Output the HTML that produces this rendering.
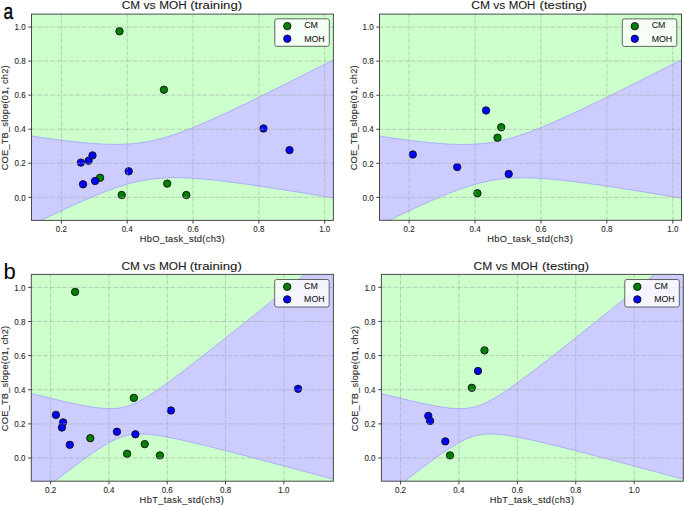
<!DOCTYPE html><html><head><meta charset="utf-8"><style>html,body{margin:0;padding:0;background:#fff;}svg{display:block;}text{font-family:"Liberation Sans",sans-serif;}</style></head><body>
<svg width="685" height="507" viewBox="0 0 685 507">
<rect width="685" height="507" fill="#fff"/>
<clipPath id="cA1"><rect x="31.5" y="14.1" width="301.90" height="206.30"/></clipPath>
<g clip-path="url(#cA1)">
<rect x="31.5" y="14.1" width="301.90" height="206.30" fill="#ccffcc"/>
<path d="M29.50,135.67 L31.04,135.90 L32.57,136.13 L34.11,136.35 L35.65,136.58 L37.19,136.80 L38.72,137.03 L40.26,137.25 L41.80,137.47 L43.33,137.69 L44.87,137.90 L46.41,138.12 L47.95,138.33 L49.48,138.54 L51.02,138.75 L52.56,138.96 L54.09,139.17 L55.63,139.37 L57.17,139.57 L58.71,139.77 L60.24,139.97 L61.78,140.17 L63.32,140.36 L64.86,140.55 L66.39,140.74 L67.93,140.92 L69.47,141.10 L71.00,141.28 L72.54,141.46 L74.08,141.63 L75.62,141.80 L77.15,141.96 L78.69,142.13 L80.23,142.28 L81.76,142.44 L83.30,142.59 L84.84,142.73 L86.38,142.87 L87.91,143.01 L89.45,143.14 L90.99,143.27 L92.52,143.39 L94.06,143.50 L95.60,143.61 L97.14,143.71 L98.67,143.81 L100.21,143.90 L101.75,143.98 L103.28,144.06 L104.82,144.13 L106.36,144.19 L107.90,144.24 L109.43,144.28 L110.97,144.32 L112.51,144.34 L114.05,144.36 L115.58,144.36 L117.12,144.36 L118.66,144.34 L120.19,144.32 L121.73,144.28 L123.27,144.23 L124.81,144.17 L126.34,144.09 L127.88,144.00 L129.42,143.90 L130.95,143.79 L132.49,143.66 L134.03,143.51 L135.57,143.36 L137.10,143.18 L138.64,143.00 L140.18,142.79 L141.71,142.58 L143.25,142.34 L144.79,142.09 L146.33,141.83 L147.86,141.55 L149.40,141.26 L150.94,140.95 L152.47,140.62 L154.01,140.28 L155.55,139.92 L157.09,139.55 L158.62,139.17 L160.16,138.77 L161.70,138.36 L163.24,137.93 L164.77,137.49 L166.31,137.04 L167.85,136.57 L169.38,136.09 L170.92,135.60 L172.46,135.10 L174.00,134.59 L175.53,134.07 L177.07,133.53 L178.61,132.99 L180.14,132.44 L181.68,131.88 L183.22,131.31 L184.76,130.73 L186.29,130.14 L187.83,129.55 L189.37,128.94 L190.90,128.33 L192.44,127.72 L193.98,127.09 L195.52,126.46 L197.05,125.83 L198.59,125.19 L200.13,124.54 L201.66,123.89 L203.20,123.23 L204.74,122.56 L206.28,121.90 L207.81,121.22 L209.35,120.55 L210.89,119.87 L212.43,119.18 L213.96,118.50 L215.50,117.80 L217.04,117.11 L218.57,116.41 L220.11,115.71 L221.65,115.00 L223.19,114.29 L224.72,113.58 L226.26,112.87 L227.80,112.15 L229.33,111.43 L230.87,110.71 L232.41,109.99 L233.95,109.26 L235.48,108.53 L237.02,107.80 L238.56,107.07 L240.09,106.34 L241.63,105.60 L243.17,104.86 L244.71,104.12 L246.24,103.38 L247.78,102.64 L249.32,101.89 L250.85,101.15 L252.39,100.40 L253.93,99.65 L255.47,98.90 L257.00,98.15 L258.54,97.40 L260.08,96.64 L261.62,95.89 L263.15,95.13 L264.69,94.37 L266.23,93.61 L267.76,92.85 L269.30,92.09 L270.84,91.33 L272.38,90.57 L273.91,89.80 L275.45,89.04 L276.99,88.27 L278.52,87.51 L280.06,86.74 L281.60,85.97 L283.14,85.20 L284.67,84.43 L286.21,83.66 L287.75,82.89 L289.28,82.12 L290.82,81.35 L292.36,80.58 L293.90,79.80 L295.43,79.03 L296.97,78.25 L298.51,77.48 L300.04,76.70 L301.58,75.93 L303.12,75.15 L304.66,74.37 L306.19,73.59 L307.73,72.81 L309.27,72.04 L310.81,71.26 L312.34,70.48 L313.88,69.70 L315.42,68.92 L316.95,68.13 L318.49,67.35 L320.03,66.57 L321.57,65.79 L323.10,65.00 L324.64,64.22 L326.18,63.44 L327.71,62.65 L329.25,61.87 L330.79,61.08 L332.33,60.30 L333.86,59.51 L335.40,58.73 L335.40,198.36 L333.86,198.10 L332.33,197.84 L330.79,197.58 L329.25,197.32 L327.71,197.06 L326.18,196.80 L324.64,196.55 L323.10,196.29 L321.57,196.03 L320.03,195.78 L318.49,195.52 L316.95,195.26 L315.42,195.01 L313.88,194.75 L312.34,194.50 L310.81,194.25 L309.27,193.99 L307.73,193.74 L306.19,193.49 L304.66,193.23 L303.12,192.98 L301.58,192.73 L300.04,192.48 L298.51,192.23 L296.97,191.98 L295.43,191.73 L293.90,191.49 L292.36,191.24 L290.82,190.99 L289.28,190.74 L287.75,190.50 L286.21,190.25 L284.67,190.01 L283.14,189.77 L281.60,189.52 L280.06,189.28 L278.52,189.04 L276.99,188.80 L275.45,188.56 L273.91,188.32 L272.38,188.08 L270.84,187.85 L269.30,187.61 L267.76,187.38 L266.23,187.14 L264.69,186.91 L263.15,186.68 L261.62,186.45 L260.08,186.22 L258.54,185.99 L257.00,185.76 L255.47,185.54 L253.93,185.31 L252.39,185.09 L250.85,184.87 L249.32,184.65 L247.78,184.43 L246.24,184.21 L244.71,184.00 L243.17,183.78 L241.63,183.57 L240.09,183.36 L238.56,183.15 L237.02,182.95 L235.48,182.74 L233.95,182.54 L232.41,182.34 L230.87,182.14 L229.33,181.94 L227.80,181.75 L226.26,181.56 L224.72,181.37 L223.19,181.19 L221.65,181.01 L220.11,180.83 L218.57,180.65 L217.04,180.48 L215.50,180.31 L213.96,180.14 L212.43,179.98 L210.89,179.82 L209.35,179.67 L207.81,179.52 L206.28,179.37 L204.74,179.23 L203.20,179.09 L201.66,178.96 L200.13,178.83 L198.59,178.71 L197.05,178.60 L195.52,178.49 L193.98,178.38 L192.44,178.28 L190.90,178.19 L189.37,178.11 L187.83,178.03 L186.29,177.96 L184.76,177.90 L183.22,177.85 L181.68,177.81 L180.14,177.77 L178.61,177.74 L177.07,177.73 L175.53,177.72 L174.00,177.72 L172.46,177.74 L170.92,177.76 L169.38,177.80 L167.85,177.85 L166.31,177.91 L164.77,177.98 L163.24,178.07 L161.70,178.16 L160.16,178.28 L158.62,178.40 L157.09,178.55 L155.55,178.70 L154.01,178.87 L152.47,179.06 L150.94,179.26 L149.40,179.47 L147.86,179.70 L146.33,179.95 L144.79,180.21 L143.25,180.49 L141.71,180.78 L140.18,181.09 L138.64,181.41 L137.10,181.75 L135.57,182.10 L134.03,182.47 L132.49,182.86 L130.95,183.25 L129.42,183.66 L127.88,184.09 L126.34,184.53 L124.81,184.98 L123.27,185.44 L121.73,185.92 L120.19,186.40 L118.66,186.90 L117.12,187.41 L115.58,187.94 L114.05,188.47 L112.51,189.01 L110.97,189.56 L109.43,190.12 L107.90,190.69 L106.36,191.27 L104.82,191.85 L103.28,192.45 L101.75,193.05 L100.21,193.66 L98.67,194.27 L97.14,194.90 L95.60,195.52 L94.06,196.16 L92.52,196.80 L90.99,197.45 L89.45,198.10 L87.91,198.76 L86.38,199.42 L84.84,200.09 L83.30,200.76 L81.76,201.43 L80.23,202.11 L78.69,202.80 L77.15,203.48 L75.62,204.18 L74.08,204.87 L72.54,205.57 L71.00,206.27 L69.47,206.97 L67.93,207.68 L66.39,208.39 L64.86,209.11 L63.32,209.82 L61.78,210.54 L60.24,211.26 L58.71,211.99 L57.17,212.71 L55.63,213.44 L54.09,214.17 L52.56,214.90 L51.02,215.64 L49.48,216.37 L47.95,217.11 L46.41,217.85 L44.87,218.59 L43.33,219.33 L41.80,220.08 L40.26,220.82 L38.72,221.57 L37.19,222.32 L35.65,223.07 L34.11,223.82 L32.57,224.57 L31.04,225.33 L29.50,225.40Z" fill="#ccccff"/>
<path d="M29.50,135.67 L31.04,135.90 L32.57,136.13 L34.11,136.35 L35.65,136.58 L37.19,136.80 L38.72,137.03 L40.26,137.25 L41.80,137.47 L43.33,137.69 L44.87,137.90 L46.41,138.12 L47.95,138.33 L49.48,138.54 L51.02,138.75 L52.56,138.96 L54.09,139.17 L55.63,139.37 L57.17,139.57 L58.71,139.77 L60.24,139.97 L61.78,140.17 L63.32,140.36 L64.86,140.55 L66.39,140.74 L67.93,140.92 L69.47,141.10 L71.00,141.28 L72.54,141.46 L74.08,141.63 L75.62,141.80 L77.15,141.96 L78.69,142.13 L80.23,142.28 L81.76,142.44 L83.30,142.59 L84.84,142.73 L86.38,142.87 L87.91,143.01 L89.45,143.14 L90.99,143.27 L92.52,143.39 L94.06,143.50 L95.60,143.61 L97.14,143.71 L98.67,143.81 L100.21,143.90 L101.75,143.98 L103.28,144.06 L104.82,144.13 L106.36,144.19 L107.90,144.24 L109.43,144.28 L110.97,144.32 L112.51,144.34 L114.05,144.36 L115.58,144.36 L117.12,144.36 L118.66,144.34 L120.19,144.32 L121.73,144.28 L123.27,144.23 L124.81,144.17 L126.34,144.09 L127.88,144.00 L129.42,143.90 L130.95,143.79 L132.49,143.66 L134.03,143.51 L135.57,143.36 L137.10,143.18 L138.64,143.00 L140.18,142.79 L141.71,142.58 L143.25,142.34 L144.79,142.09 L146.33,141.83 L147.86,141.55 L149.40,141.26 L150.94,140.95 L152.47,140.62 L154.01,140.28 L155.55,139.92 L157.09,139.55 L158.62,139.17 L160.16,138.77 L161.70,138.36 L163.24,137.93 L164.77,137.49 L166.31,137.04 L167.85,136.57 L169.38,136.09 L170.92,135.60 L172.46,135.10 L174.00,134.59 L175.53,134.07 L177.07,133.53 L178.61,132.99 L180.14,132.44 L181.68,131.88 L183.22,131.31 L184.76,130.73 L186.29,130.14 L187.83,129.55 L189.37,128.94 L190.90,128.33 L192.44,127.72 L193.98,127.09 L195.52,126.46 L197.05,125.83 L198.59,125.19 L200.13,124.54 L201.66,123.89 L203.20,123.23 L204.74,122.56 L206.28,121.90 L207.81,121.22 L209.35,120.55 L210.89,119.87 L212.43,119.18 L213.96,118.50 L215.50,117.80 L217.04,117.11 L218.57,116.41 L220.11,115.71 L221.65,115.00 L223.19,114.29 L224.72,113.58 L226.26,112.87 L227.80,112.15 L229.33,111.43 L230.87,110.71 L232.41,109.99 L233.95,109.26 L235.48,108.53 L237.02,107.80 L238.56,107.07 L240.09,106.34 L241.63,105.60 L243.17,104.86 L244.71,104.12 L246.24,103.38 L247.78,102.64 L249.32,101.89 L250.85,101.15 L252.39,100.40 L253.93,99.65 L255.47,98.90 L257.00,98.15 L258.54,97.40 L260.08,96.64 L261.62,95.89 L263.15,95.13 L264.69,94.37 L266.23,93.61 L267.76,92.85 L269.30,92.09 L270.84,91.33 L272.38,90.57 L273.91,89.80 L275.45,89.04 L276.99,88.27 L278.52,87.51 L280.06,86.74 L281.60,85.97 L283.14,85.20 L284.67,84.43 L286.21,83.66 L287.75,82.89 L289.28,82.12 L290.82,81.35 L292.36,80.58 L293.90,79.80 L295.43,79.03 L296.97,78.25 L298.51,77.48 L300.04,76.70 L301.58,75.93 L303.12,75.15 L304.66,74.37 L306.19,73.59 L307.73,72.81 L309.27,72.04 L310.81,71.26 L312.34,70.48 L313.88,69.70 L315.42,68.92 L316.95,68.13 L318.49,67.35 L320.03,66.57 L321.57,65.79 L323.10,65.00 L324.64,64.22 L326.18,63.44 L327.71,62.65 L329.25,61.87 L330.79,61.08 L332.33,60.30 L333.86,59.51 L335.40,58.73" fill="none" stroke="#9a9aff" stroke-width="0.7"/>
<path d="M29.50,225.40 L31.04,225.33 L32.57,224.57 L34.11,223.82 L35.65,223.07 L37.19,222.32 L38.72,221.57 L40.26,220.82 L41.80,220.08 L43.33,219.33 L44.87,218.59 L46.41,217.85 L47.95,217.11 L49.48,216.37 L51.02,215.64 L52.56,214.90 L54.09,214.17 L55.63,213.44 L57.17,212.71 L58.71,211.99 L60.24,211.26 L61.78,210.54 L63.32,209.82 L64.86,209.11 L66.39,208.39 L67.93,207.68 L69.47,206.97 L71.00,206.27 L72.54,205.57 L74.08,204.87 L75.62,204.18 L77.15,203.48 L78.69,202.80 L80.23,202.11 L81.76,201.43 L83.30,200.76 L84.84,200.09 L86.38,199.42 L87.91,198.76 L89.45,198.10 L90.99,197.45 L92.52,196.80 L94.06,196.16 L95.60,195.52 L97.14,194.90 L98.67,194.27 L100.21,193.66 L101.75,193.05 L103.28,192.45 L104.82,191.85 L106.36,191.27 L107.90,190.69 L109.43,190.12 L110.97,189.56 L112.51,189.01 L114.05,188.47 L115.58,187.94 L117.12,187.41 L118.66,186.90 L120.19,186.40 L121.73,185.92 L123.27,185.44 L124.81,184.98 L126.34,184.53 L127.88,184.09 L129.42,183.66 L130.95,183.25 L132.49,182.86 L134.03,182.47 L135.57,182.10 L137.10,181.75 L138.64,181.41 L140.18,181.09 L141.71,180.78 L143.25,180.49 L144.79,180.21 L146.33,179.95 L147.86,179.70 L149.40,179.47 L150.94,179.26 L152.47,179.06 L154.01,178.87 L155.55,178.70 L157.09,178.55 L158.62,178.40 L160.16,178.28 L161.70,178.16 L163.24,178.07 L164.77,177.98 L166.31,177.91 L167.85,177.85 L169.38,177.80 L170.92,177.76 L172.46,177.74 L174.00,177.72 L175.53,177.72 L177.07,177.73 L178.61,177.74 L180.14,177.77 L181.68,177.81 L183.22,177.85 L184.76,177.90 L186.29,177.96 L187.83,178.03 L189.37,178.11 L190.90,178.19 L192.44,178.28 L193.98,178.38 L195.52,178.49 L197.05,178.60 L198.59,178.71 L200.13,178.83 L201.66,178.96 L203.20,179.09 L204.74,179.23 L206.28,179.37 L207.81,179.52 L209.35,179.67 L210.89,179.82 L212.43,179.98 L213.96,180.14 L215.50,180.31 L217.04,180.48 L218.57,180.65 L220.11,180.83 L221.65,181.01 L223.19,181.19 L224.72,181.37 L226.26,181.56 L227.80,181.75 L229.33,181.94 L230.87,182.14 L232.41,182.34 L233.95,182.54 L235.48,182.74 L237.02,182.95 L238.56,183.15 L240.09,183.36 L241.63,183.57 L243.17,183.78 L244.71,184.00 L246.24,184.21 L247.78,184.43 L249.32,184.65 L250.85,184.87 L252.39,185.09 L253.93,185.31 L255.47,185.54 L257.00,185.76 L258.54,185.99 L260.08,186.22 L261.62,186.45 L263.15,186.68 L264.69,186.91 L266.23,187.14 L267.76,187.38 L269.30,187.61 L270.84,187.85 L272.38,188.08 L273.91,188.32 L275.45,188.56 L276.99,188.80 L278.52,189.04 L280.06,189.28 L281.60,189.52 L283.14,189.77 L284.67,190.01 L286.21,190.25 L287.75,190.50 L289.28,190.74 L290.82,190.99 L292.36,191.24 L293.90,191.49 L295.43,191.73 L296.97,191.98 L298.51,192.23 L300.04,192.48 L301.58,192.73 L303.12,192.98 L304.66,193.23 L306.19,193.49 L307.73,193.74 L309.27,193.99 L310.81,194.25 L312.34,194.50 L313.88,194.75 L315.42,195.01 L316.95,195.26 L318.49,195.52 L320.03,195.78 L321.57,196.03 L323.10,196.29 L324.64,196.55 L326.18,196.80 L327.71,197.06 L329.25,197.32 L330.79,197.58 L332.33,197.84 L333.86,198.10 L335.40,198.36" fill="none" stroke="#9a9aff" stroke-width="0.7"/>
<circle cx="119.5" cy="31.3" r="3.7" fill="#008000" stroke="#111" stroke-width="0.9"/>
<circle cx="163.9" cy="89.7" r="3.7" fill="#008000" stroke="#111" stroke-width="0.9"/>
<circle cx="100.1" cy="177.8" r="3.7" fill="#008000" stroke="#111" stroke-width="0.9"/>
<circle cx="121.7" cy="195" r="3.7" fill="#008000" stroke="#111" stroke-width="0.9"/>
<circle cx="167.2" cy="183.6" r="3.7" fill="#008000" stroke="#111" stroke-width="0.9"/>
<circle cx="186.3" cy="195" r="3.7" fill="#008000" stroke="#111" stroke-width="0.9"/>
<circle cx="80.9" cy="162.6" r="3.7" fill="#0000ff" stroke="#111" stroke-width="0.9"/>
<circle cx="88.6" cy="160.7" r="3.7" fill="#0000ff" stroke="#111" stroke-width="0.9"/>
<circle cx="92.5" cy="155.4" r="3.7" fill="#0000ff" stroke="#111" stroke-width="0.9"/>
<circle cx="83.05" cy="184.3" r="3.7" fill="#0000ff" stroke="#111" stroke-width="0.9"/>
<circle cx="95.1" cy="181" r="3.7" fill="#0000ff" stroke="#111" stroke-width="0.9"/>
<circle cx="128.7" cy="171.3" r="3.7" fill="#0000ff" stroke="#111" stroke-width="0.9"/>
<circle cx="263.5" cy="128.45" r="3.7" fill="#0000ff" stroke="#111" stroke-width="0.9"/>
<circle cx="289.5" cy="150.1" r="3.7" fill="#0000ff" stroke="#111" stroke-width="0.9"/>
<path d="M61.40,220.4V14.1M127.23,220.4V14.1M193.06,220.4V14.1M258.89,220.4V14.1M324.72,220.4V14.1M31.5,197.30H333.4M31.5,163.25H333.4M31.5,129.20H333.4M31.5,95.15H333.4M31.5,61.10H333.4M31.5,27.05H333.4" stroke="#a8a8a8" stroke-opacity="0.75" stroke-width="0.8" stroke-dasharray="3.85,0.95,0.6,0.95" fill="none"/>
</g>
<rect x="31.5" y="14.1" width="301.90" height="206.30" fill="none" stroke="#4a4a4a" stroke-width="1"/>
<path d="M61.40,220.4v3.2M127.23,220.4v3.2M193.06,220.4v3.2M258.89,220.4v3.2M324.72,220.4v3.2M31.5,197.30h-3.2M31.5,163.25h-3.2M31.5,129.20h-3.2M31.5,95.15h-3.2M31.5,61.10h-3.2M31.5,27.05h-3.2" stroke="#303030" stroke-width="0.9" fill="none"/>
<text transform="translate(61.40,231.90) scale(0.87,1)" font-size="9.2" fill="#262626" text-anchor="middle" stroke="#262626" stroke-width="0.1">0.2</text>
<text transform="translate(127.23,231.90) scale(0.87,1)" font-size="9.2" fill="#262626" text-anchor="middle" stroke="#262626" stroke-width="0.1">0.4</text>
<text transform="translate(193.06,231.90) scale(0.87,1)" font-size="9.2" fill="#262626" text-anchor="middle" stroke="#262626" stroke-width="0.1">0.6</text>
<text transform="translate(258.89,231.90) scale(0.87,1)" font-size="9.2" fill="#262626" text-anchor="middle" stroke="#262626" stroke-width="0.1">0.8</text>
<text transform="translate(324.72,231.90) scale(0.87,1)" font-size="9.2" fill="#262626" text-anchor="middle" stroke="#262626" stroke-width="0.1">1.0</text>
<text transform="translate(25.60,200.50) scale(0.87,1)" font-size="9.2" fill="#262626" text-anchor="end" stroke="#262626" stroke-width="0.1">0.0</text>
<text transform="translate(25.60,166.45) scale(0.87,1)" font-size="9.2" fill="#262626" text-anchor="end" stroke="#262626" stroke-width="0.1">0.2</text>
<text transform="translate(25.60,132.40) scale(0.87,1)" font-size="9.2" fill="#262626" text-anchor="end" stroke="#262626" stroke-width="0.1">0.4</text>
<text transform="translate(25.60,98.35) scale(0.87,1)" font-size="9.2" fill="#262626" text-anchor="end" stroke="#262626" stroke-width="0.1">0.6</text>
<text transform="translate(25.60,64.30) scale(0.87,1)" font-size="9.2" fill="#262626" text-anchor="end" stroke="#262626" stroke-width="0.1">0.8</text>
<text transform="translate(25.60,30.25) scale(0.87,1)" font-size="9.2" fill="#262626" text-anchor="end" stroke="#262626" stroke-width="0.1">1.0</text>
<text transform="translate(182.35,242.30)" font-size="9.3" letter-spacing="0.306" fill="#262626" text-anchor="middle" stroke="#262626" stroke-width="0.1">HbO_task_std(ch3)</text>
<text transform="translate(8.10,117.73) rotate(-90)" font-size="9.3" letter-spacing="0.183" fill="#262626" text-anchor="middle" stroke="#262626" stroke-width="0.1">COE_TB_slope(01, ch2)</text>
<text transform="translate(130.95,9.00) scale(1.0919,1)" font-size="10.8" fill="#1a1a1a" text-anchor="middle" stroke="#1a1a1a" stroke-width="0.1">CM</text>
<text transform="translate(149.52,9.00) scale(1.1288,1)" font-size="10.8" fill="#1a1a1a" text-anchor="middle" stroke="#1a1a1a" stroke-width="0.1">vs</text>
<text transform="translate(173.03,9.00) scale(1.0883,1)" font-size="10.8" fill="#1a1a1a" text-anchor="middle" stroke="#1a1a1a" stroke-width="0.1">MOH</text>
<text transform="translate(216.15,9.00) scale(1.2230,1)" font-size="10.8" fill="#1a1a1a" text-anchor="middle" stroke="#1a1a1a" stroke-width="0.1">(training)</text>
<rect x="274.80" y="18.80" width="54.50" height="27.50" rx="2" fill="#fff" fill-opacity="0.8" stroke="#555" stroke-width="0.9"/>
<circle cx="287.30" cy="26.10" r="3.7" fill="#008000" stroke="#111" stroke-width="0.9"/>
<circle cx="287.30" cy="38.70" r="3.7" fill="#0000ff" stroke="#111" stroke-width="0.9"/>
<text x="304.20" y="28.00" font-size="8.8" fill="#222" stroke="#222" stroke-width="0.1">CM</text>
<text x="304.20" y="41.50" font-size="8.8" fill="#222" stroke="#222" stroke-width="0.1">MOH</text>
<clipPath id="cA2"><rect x="379.5" y="14.1" width="302.00" height="206.20"/></clipPath>
<g clip-path="url(#cA2)">
<rect x="379.5" y="14.1" width="302.00" height="206.20" fill="#ccffcc"/>
<path d="M377.50,135.81 L379.04,136.04 L380.58,136.27 L382.11,136.50 L383.65,136.72 L385.19,136.95 L386.73,137.17 L388.26,137.39 L389.80,137.61 L391.34,137.83 L392.88,138.05 L394.41,138.26 L395.95,138.47 L397.49,138.69 L399.03,138.90 L400.57,139.10 L402.10,139.31 L403.64,139.51 L405.18,139.71 L406.72,139.91 L408.25,140.11 L409.79,140.31 L411.33,140.50 L412.87,140.69 L414.40,140.87 L415.94,141.06 L417.48,141.24 L419.02,141.42 L420.56,141.59 L422.09,141.76 L423.63,141.93 L425.17,142.10 L426.71,142.26 L428.24,142.42 L429.78,142.57 L431.32,142.72 L432.86,142.86 L434.39,143.00 L435.93,143.14 L437.47,143.27 L439.01,143.39 L440.55,143.51 L442.08,143.63 L443.62,143.73 L445.16,143.84 L446.70,143.93 L448.23,144.02 L449.77,144.10 L451.31,144.17 L452.85,144.24 L454.38,144.30 L455.92,144.35 L457.46,144.39 L459.00,144.42 L460.54,144.45 L462.07,144.46 L463.61,144.46 L465.15,144.46 L466.69,144.44 L468.22,144.41 L469.76,144.37 L471.30,144.32 L472.84,144.25 L474.37,144.17 L475.91,144.08 L477.45,143.98 L478.99,143.86 L480.53,143.73 L482.06,143.58 L483.60,143.42 L485.14,143.24 L486.68,143.05 L488.21,142.85 L489.75,142.63 L491.29,142.39 L492.83,142.14 L494.36,141.87 L495.90,141.59 L497.44,141.29 L498.98,140.97 L500.52,140.65 L502.05,140.30 L503.59,139.94 L505.13,139.57 L506.67,139.18 L508.20,138.78 L509.74,138.36 L511.28,137.93 L512.82,137.49 L514.35,137.03 L515.89,136.56 L517.43,136.08 L518.97,135.59 L520.51,135.09 L522.04,134.57 L523.58,134.05 L525.12,133.51 L526.66,132.97 L528.19,132.41 L529.73,131.85 L531.27,131.28 L532.81,130.69 L534.34,130.11 L535.88,129.51 L537.42,128.90 L538.96,128.29 L540.49,127.67 L542.03,127.05 L543.57,126.42 L545.11,125.78 L546.65,125.14 L548.18,124.49 L549.72,123.83 L551.26,123.17 L552.80,122.51 L554.33,121.84 L555.87,121.17 L557.41,120.49 L558.95,119.81 L560.48,119.12 L562.02,118.43 L563.56,117.74 L565.10,117.04 L566.64,116.34 L568.17,115.64 L569.71,114.93 L571.25,114.23 L572.79,113.51 L574.32,112.80 L575.86,112.08 L577.40,111.36 L578.94,110.64 L580.47,109.92 L582.01,109.19 L583.55,108.46 L585.09,107.73 L586.63,107.00 L588.16,106.26 L589.70,105.52 L591.24,104.78 L592.78,104.04 L594.31,103.30 L595.85,102.56 L597.39,101.81 L598.93,101.07 L600.46,100.32 L602.00,99.57 L603.54,98.82 L605.08,98.07 L606.62,97.31 L608.15,96.56 L609.69,95.80 L611.23,95.04 L612.77,94.29 L614.30,93.53 L615.84,92.77 L617.38,92.00 L618.92,91.24 L620.45,90.48 L621.99,89.71 L623.53,88.95 L625.07,88.18 L626.61,87.42 L628.14,86.65 L629.68,85.88 L631.22,85.11 L632.76,84.34 L634.29,83.57 L635.83,82.80 L637.37,82.03 L638.91,81.26 L640.44,80.48 L641.98,79.71 L643.52,78.93 L645.06,78.16 L646.60,77.38 L648.13,76.61 L649.67,75.83 L651.21,75.05 L652.75,74.27 L654.28,73.50 L655.82,72.72 L657.36,71.94 L658.90,71.16 L660.43,70.38 L661.97,69.60 L663.51,68.82 L665.05,68.03 L666.59,67.25 L668.12,66.47 L669.66,65.69 L671.20,64.90 L672.74,64.12 L674.27,63.34 L675.81,62.55 L677.35,61.77 L678.89,60.98 L680.42,60.20 L681.96,59.41 L683.50,58.62 L683.50,198.53 L681.96,198.27 L680.42,198.01 L678.89,197.75 L677.35,197.49 L675.81,197.23 L674.27,196.97 L672.74,196.71 L671.20,196.46 L669.66,196.20 L668.12,195.94 L666.59,195.69 L665.05,195.43 L663.51,195.17 L661.97,194.92 L660.43,194.66 L658.90,194.41 L657.36,194.16 L655.82,193.90 L654.28,193.65 L652.75,193.40 L651.21,193.15 L649.67,192.90 L648.13,192.64 L646.60,192.39 L645.06,192.14 L643.52,191.90 L641.98,191.65 L640.44,191.40 L638.91,191.15 L637.37,190.91 L635.83,190.66 L634.29,190.41 L632.76,190.17 L631.22,189.93 L629.68,189.68 L628.14,189.44 L626.61,189.20 L625.07,188.96 L623.53,188.72 L621.99,188.48 L620.45,188.24 L618.92,188.01 L617.38,187.77 L615.84,187.53 L614.30,187.30 L612.77,187.07 L611.23,186.83 L609.69,186.60 L608.15,186.37 L606.62,186.14 L605.08,185.92 L603.54,185.69 L602.00,185.47 L600.46,185.24 L598.93,185.02 L597.39,184.80 L595.85,184.58 L594.31,184.36 L592.78,184.15 L591.24,183.93 L589.70,183.72 L588.16,183.51 L586.63,183.30 L585.09,183.09 L583.55,182.89 L582.01,182.69 L580.47,182.49 L578.94,182.29 L577.40,182.09 L575.86,181.90 L574.32,181.71 L572.79,181.52 L571.25,181.33 L569.71,181.15 L568.17,180.97 L566.64,180.79 L565.10,180.62 L563.56,180.45 L562.02,180.28 L560.48,180.12 L558.95,179.96 L557.41,179.80 L555.87,179.65 L554.33,179.50 L552.80,179.36 L551.26,179.22 L549.72,179.09 L548.18,178.96 L546.65,178.84 L545.11,178.72 L543.57,178.61 L542.03,178.51 L540.49,178.41 L538.96,178.31 L537.42,178.23 L535.88,178.15 L534.34,178.08 L532.81,178.02 L531.27,177.96 L529.73,177.91 L528.19,177.88 L526.66,177.85 L525.12,177.83 L523.58,177.82 L522.04,177.82 L520.51,177.83 L518.97,177.85 L517.43,177.89 L515.89,177.93 L514.35,177.99 L512.82,178.06 L511.28,178.15 L509.74,178.24 L508.20,178.35 L506.67,178.47 L505.13,178.61 L503.59,178.77 L502.05,178.93 L500.52,179.11 L498.98,179.31 L497.44,179.52 L495.90,179.75 L494.36,179.99 L492.83,180.25 L491.29,180.53 L489.75,180.82 L488.21,181.12 L486.68,181.44 L485.14,181.78 L483.60,182.13 L482.06,182.49 L480.53,182.87 L478.99,183.27 L477.45,183.67 L475.91,184.10 L474.37,184.53 L472.84,184.98 L471.30,185.44 L469.76,185.91 L468.22,186.40 L466.69,186.90 L465.15,187.40 L463.61,187.92 L462.07,188.45 L460.54,188.99 L459.00,189.54 L457.46,190.10 L455.92,190.67 L454.38,191.24 L452.85,191.83 L451.31,192.42 L449.77,193.02 L448.23,193.63 L446.70,194.24 L445.16,194.86 L443.62,195.49 L442.08,196.13 L440.55,196.77 L439.01,197.41 L437.47,198.06 L435.93,198.72 L434.39,199.38 L432.86,200.05 L431.32,200.72 L429.78,201.39 L428.24,202.07 L426.71,202.75 L425.17,203.44 L423.63,204.13 L422.09,204.83 L420.56,205.53 L419.02,206.23 L417.48,206.93 L415.94,207.64 L414.40,208.35 L412.87,209.06 L411.33,209.78 L409.79,210.50 L408.25,211.22 L406.72,211.94 L405.18,212.67 L403.64,213.39 L402.10,214.12 L400.57,214.85 L399.03,215.59 L397.49,216.32 L395.95,217.06 L394.41,217.80 L392.88,218.54 L391.34,219.29 L389.80,220.03 L388.26,220.78 L386.73,221.52 L385.19,222.27 L383.65,223.02 L382.11,223.77 L380.58,224.53 L379.04,225.28 L377.50,225.30Z" fill="#ccccff"/>
<path d="M377.50,135.81 L379.04,136.04 L380.58,136.27 L382.11,136.50 L383.65,136.72 L385.19,136.95 L386.73,137.17 L388.26,137.39 L389.80,137.61 L391.34,137.83 L392.88,138.05 L394.41,138.26 L395.95,138.47 L397.49,138.69 L399.03,138.90 L400.57,139.10 L402.10,139.31 L403.64,139.51 L405.18,139.71 L406.72,139.91 L408.25,140.11 L409.79,140.31 L411.33,140.50 L412.87,140.69 L414.40,140.87 L415.94,141.06 L417.48,141.24 L419.02,141.42 L420.56,141.59 L422.09,141.76 L423.63,141.93 L425.17,142.10 L426.71,142.26 L428.24,142.42 L429.78,142.57 L431.32,142.72 L432.86,142.86 L434.39,143.00 L435.93,143.14 L437.47,143.27 L439.01,143.39 L440.55,143.51 L442.08,143.63 L443.62,143.73 L445.16,143.84 L446.70,143.93 L448.23,144.02 L449.77,144.10 L451.31,144.17 L452.85,144.24 L454.38,144.30 L455.92,144.35 L457.46,144.39 L459.00,144.42 L460.54,144.45 L462.07,144.46 L463.61,144.46 L465.15,144.46 L466.69,144.44 L468.22,144.41 L469.76,144.37 L471.30,144.32 L472.84,144.25 L474.37,144.17 L475.91,144.08 L477.45,143.98 L478.99,143.86 L480.53,143.73 L482.06,143.58 L483.60,143.42 L485.14,143.24 L486.68,143.05 L488.21,142.85 L489.75,142.63 L491.29,142.39 L492.83,142.14 L494.36,141.87 L495.90,141.59 L497.44,141.29 L498.98,140.97 L500.52,140.65 L502.05,140.30 L503.59,139.94 L505.13,139.57 L506.67,139.18 L508.20,138.78 L509.74,138.36 L511.28,137.93 L512.82,137.49 L514.35,137.03 L515.89,136.56 L517.43,136.08 L518.97,135.59 L520.51,135.09 L522.04,134.57 L523.58,134.05 L525.12,133.51 L526.66,132.97 L528.19,132.41 L529.73,131.85 L531.27,131.28 L532.81,130.69 L534.34,130.11 L535.88,129.51 L537.42,128.90 L538.96,128.29 L540.49,127.67 L542.03,127.05 L543.57,126.42 L545.11,125.78 L546.65,125.14 L548.18,124.49 L549.72,123.83 L551.26,123.17 L552.80,122.51 L554.33,121.84 L555.87,121.17 L557.41,120.49 L558.95,119.81 L560.48,119.12 L562.02,118.43 L563.56,117.74 L565.10,117.04 L566.64,116.34 L568.17,115.64 L569.71,114.93 L571.25,114.23 L572.79,113.51 L574.32,112.80 L575.86,112.08 L577.40,111.36 L578.94,110.64 L580.47,109.92 L582.01,109.19 L583.55,108.46 L585.09,107.73 L586.63,107.00 L588.16,106.26 L589.70,105.52 L591.24,104.78 L592.78,104.04 L594.31,103.30 L595.85,102.56 L597.39,101.81 L598.93,101.07 L600.46,100.32 L602.00,99.57 L603.54,98.82 L605.08,98.07 L606.62,97.31 L608.15,96.56 L609.69,95.80 L611.23,95.04 L612.77,94.29 L614.30,93.53 L615.84,92.77 L617.38,92.00 L618.92,91.24 L620.45,90.48 L621.99,89.71 L623.53,88.95 L625.07,88.18 L626.61,87.42 L628.14,86.65 L629.68,85.88 L631.22,85.11 L632.76,84.34 L634.29,83.57 L635.83,82.80 L637.37,82.03 L638.91,81.26 L640.44,80.48 L641.98,79.71 L643.52,78.93 L645.06,78.16 L646.60,77.38 L648.13,76.61 L649.67,75.83 L651.21,75.05 L652.75,74.27 L654.28,73.50 L655.82,72.72 L657.36,71.94 L658.90,71.16 L660.43,70.38 L661.97,69.60 L663.51,68.82 L665.05,68.03 L666.59,67.25 L668.12,66.47 L669.66,65.69 L671.20,64.90 L672.74,64.12 L674.27,63.34 L675.81,62.55 L677.35,61.77 L678.89,60.98 L680.42,60.20 L681.96,59.41 L683.50,58.62" fill="none" stroke="#9a9aff" stroke-width="0.7"/>
<path d="M377.50,225.30 L379.04,225.28 L380.58,224.53 L382.11,223.77 L383.65,223.02 L385.19,222.27 L386.73,221.52 L388.26,220.78 L389.80,220.03 L391.34,219.29 L392.88,218.54 L394.41,217.80 L395.95,217.06 L397.49,216.32 L399.03,215.59 L400.57,214.85 L402.10,214.12 L403.64,213.39 L405.18,212.67 L406.72,211.94 L408.25,211.22 L409.79,210.50 L411.33,209.78 L412.87,209.06 L414.40,208.35 L415.94,207.64 L417.48,206.93 L419.02,206.23 L420.56,205.53 L422.09,204.83 L423.63,204.13 L425.17,203.44 L426.71,202.75 L428.24,202.07 L429.78,201.39 L431.32,200.72 L432.86,200.05 L434.39,199.38 L435.93,198.72 L437.47,198.06 L439.01,197.41 L440.55,196.77 L442.08,196.13 L443.62,195.49 L445.16,194.86 L446.70,194.24 L448.23,193.63 L449.77,193.02 L451.31,192.42 L452.85,191.83 L454.38,191.24 L455.92,190.67 L457.46,190.10 L459.00,189.54 L460.54,188.99 L462.07,188.45 L463.61,187.92 L465.15,187.40 L466.69,186.90 L468.22,186.40 L469.76,185.91 L471.30,185.44 L472.84,184.98 L474.37,184.53 L475.91,184.10 L477.45,183.67 L478.99,183.27 L480.53,182.87 L482.06,182.49 L483.60,182.13 L485.14,181.78 L486.68,181.44 L488.21,181.12 L489.75,180.82 L491.29,180.53 L492.83,180.25 L494.36,179.99 L495.90,179.75 L497.44,179.52 L498.98,179.31 L500.52,179.11 L502.05,178.93 L503.59,178.77 L505.13,178.61 L506.67,178.47 L508.20,178.35 L509.74,178.24 L511.28,178.15 L512.82,178.06 L514.35,177.99 L515.89,177.93 L517.43,177.89 L518.97,177.85 L520.51,177.83 L522.04,177.82 L523.58,177.82 L525.12,177.83 L526.66,177.85 L528.19,177.88 L529.73,177.91 L531.27,177.96 L532.81,178.02 L534.34,178.08 L535.88,178.15 L537.42,178.23 L538.96,178.31 L540.49,178.41 L542.03,178.51 L543.57,178.61 L545.11,178.72 L546.65,178.84 L548.18,178.96 L549.72,179.09 L551.26,179.22 L552.80,179.36 L554.33,179.50 L555.87,179.65 L557.41,179.80 L558.95,179.96 L560.48,180.12 L562.02,180.28 L563.56,180.45 L565.10,180.62 L566.64,180.79 L568.17,180.97 L569.71,181.15 L571.25,181.33 L572.79,181.52 L574.32,181.71 L575.86,181.90 L577.40,182.09 L578.94,182.29 L580.47,182.49 L582.01,182.69 L583.55,182.89 L585.09,183.09 L586.63,183.30 L588.16,183.51 L589.70,183.72 L591.24,183.93 L592.78,184.15 L594.31,184.36 L595.85,184.58 L597.39,184.80 L598.93,185.02 L600.46,185.24 L602.00,185.47 L603.54,185.69 L605.08,185.92 L606.62,186.14 L608.15,186.37 L609.69,186.60 L611.23,186.83 L612.77,187.07 L614.30,187.30 L615.84,187.53 L617.38,187.77 L618.92,188.01 L620.45,188.24 L621.99,188.48 L623.53,188.72 L625.07,188.96 L626.61,189.20 L628.14,189.44 L629.68,189.68 L631.22,189.93 L632.76,190.17 L634.29,190.41 L635.83,190.66 L637.37,190.91 L638.91,191.15 L640.44,191.40 L641.98,191.65 L643.52,191.90 L645.06,192.14 L646.60,192.39 L648.13,192.64 L649.67,192.90 L651.21,193.15 L652.75,193.40 L654.28,193.65 L655.82,193.90 L657.36,194.16 L658.90,194.41 L660.43,194.66 L661.97,194.92 L663.51,195.17 L665.05,195.43 L666.59,195.69 L668.12,195.94 L669.66,196.20 L671.20,196.46 L672.74,196.71 L674.27,196.97 L675.81,197.23 L677.35,197.49 L678.89,197.75 L680.42,198.01 L681.96,198.27 L683.50,198.53" fill="none" stroke="#9a9aff" stroke-width="0.7"/>
<circle cx="501.2" cy="127.2" r="3.7" fill="#008000" stroke="#111" stroke-width="0.9"/>
<circle cx="497.5" cy="137.7" r="3.7" fill="#008000" stroke="#111" stroke-width="0.9"/>
<circle cx="477.4" cy="193.3" r="3.7" fill="#008000" stroke="#111" stroke-width="0.9"/>
<circle cx="486.05" cy="110.46" r="3.7" fill="#0000ff" stroke="#111" stroke-width="0.9"/>
<circle cx="412.8" cy="154.5" r="3.7" fill="#0000ff" stroke="#111" stroke-width="0.9"/>
<circle cx="457.2" cy="167.1" r="3.7" fill="#0000ff" stroke="#111" stroke-width="0.9"/>
<circle cx="508.7" cy="174" r="3.7" fill="#0000ff" stroke="#111" stroke-width="0.9"/>
<path d="M409.10,220.3V14.1M475.02,220.3V14.1M540.94,220.3V14.1M606.86,220.3V14.1M672.78,220.3V14.1M379.5,197.40H681.5M379.5,163.34H681.5M379.5,129.28H681.5M379.5,95.22H681.5M379.5,61.16H681.5M379.5,27.10H681.5" stroke="#a8a8a8" stroke-opacity="0.75" stroke-width="0.8" stroke-dasharray="3.85,0.95,0.6,0.95" fill="none"/>
</g>
<rect x="379.5" y="14.1" width="302.00" height="206.20" fill="none" stroke="#4a4a4a" stroke-width="1"/>
<path d="M409.10,220.3v3.2M475.02,220.3v3.2M540.94,220.3v3.2M606.86,220.3v3.2M672.78,220.3v3.2M379.5,197.40h-3.2M379.5,163.34h-3.2M379.5,129.28h-3.2M379.5,95.22h-3.2M379.5,61.16h-3.2M379.5,27.10h-3.2" stroke="#303030" stroke-width="0.9" fill="none"/>
<text transform="translate(409.10,231.80) scale(0.87,1)" font-size="9.2" fill="#262626" text-anchor="middle" stroke="#262626" stroke-width="0.1">0.2</text>
<text transform="translate(475.02,231.80) scale(0.87,1)" font-size="9.2" fill="#262626" text-anchor="middle" stroke="#262626" stroke-width="0.1">0.4</text>
<text transform="translate(540.94,231.80) scale(0.87,1)" font-size="9.2" fill="#262626" text-anchor="middle" stroke="#262626" stroke-width="0.1">0.6</text>
<text transform="translate(606.86,231.80) scale(0.87,1)" font-size="9.2" fill="#262626" text-anchor="middle" stroke="#262626" stroke-width="0.1">0.8</text>
<text transform="translate(672.78,231.80) scale(0.87,1)" font-size="9.2" fill="#262626" text-anchor="middle" stroke="#262626" stroke-width="0.1">1.0</text>
<text transform="translate(373.60,200.60) scale(0.87,1)" font-size="9.2" fill="#262626" text-anchor="end" stroke="#262626" stroke-width="0.1">0.0</text>
<text transform="translate(373.60,166.54) scale(0.87,1)" font-size="9.2" fill="#262626" text-anchor="end" stroke="#262626" stroke-width="0.1">0.2</text>
<text transform="translate(373.60,132.48) scale(0.87,1)" font-size="9.2" fill="#262626" text-anchor="end" stroke="#262626" stroke-width="0.1">0.4</text>
<text transform="translate(373.60,98.42) scale(0.87,1)" font-size="9.2" fill="#262626" text-anchor="end" stroke="#262626" stroke-width="0.1">0.6</text>
<text transform="translate(373.60,64.36) scale(0.87,1)" font-size="9.2" fill="#262626" text-anchor="end" stroke="#262626" stroke-width="0.1">0.8</text>
<text transform="translate(373.60,30.30) scale(0.87,1)" font-size="9.2" fill="#262626" text-anchor="end" stroke="#262626" stroke-width="0.1">1.0</text>
<text transform="translate(530.12,242.20)" font-size="9.3" letter-spacing="0.341" fill="#262626" text-anchor="middle" stroke="#262626" stroke-width="0.1">HbO_task_std(ch3)</text>
<text transform="translate(356.60,117.73) rotate(-90)" font-size="9.3" letter-spacing="0.183" fill="#262626" text-anchor="middle" stroke="#262626" stroke-width="0.1">COE_TB_slope(01, ch2)</text>
<text transform="translate(480.55,9.00) scale(1.1181,1)" font-size="10.8" fill="#1a1a1a" text-anchor="middle" stroke="#1a1a1a" stroke-width="0.1">CM</text>
<text transform="translate(499.15,9.00) scale(1.1154,1)" font-size="10.8" fill="#1a1a1a" text-anchor="middle" stroke="#1a1a1a" stroke-width="0.1">vs</text>
<text transform="translate(522.00,9.00) scale(1.0597,1)" font-size="10.8" fill="#1a1a1a" text-anchor="middle" stroke="#1a1a1a" stroke-width="0.1">MOH</text>
<text transform="translate(563.25,9.00) scale(1.2133,1)" font-size="10.8" fill="#1a1a1a" text-anchor="middle" stroke="#1a1a1a" stroke-width="0.1">(testing)</text>
<rect x="622.30" y="18.90" width="54.50" height="27.50" rx="2" fill="#fff" fill-opacity="0.8" stroke="#555" stroke-width="0.9"/>
<circle cx="634.80" cy="26.20" r="3.7" fill="#008000" stroke="#111" stroke-width="0.9"/>
<circle cx="634.80" cy="38.80" r="3.7" fill="#0000ff" stroke="#111" stroke-width="0.9"/>
<text x="651.70" y="28.10" font-size="8.8" fill="#222" stroke="#222" stroke-width="0.1">CM</text>
<text x="651.70" y="41.60" font-size="8.8" fill="#222" stroke="#222" stroke-width="0.1">MOH</text>
<clipPath id="cB1"><rect x="31.3" y="274.4" width="302.10" height="206.80"/></clipPath>
<g clip-path="url(#cB1)">
<rect x="31.3" y="274.4" width="302.10" height="206.80" fill="#ccffcc"/>
<path d="M29.30,392.97 L30.84,393.36 L32.38,393.75 L33.91,394.14 L35.45,394.53 L36.99,394.91 L38.53,395.30 L40.07,395.68 L41.61,396.06 L43.14,396.45 L44.68,396.83 L46.22,397.20 L47.76,397.58 L49.30,397.95 L50.83,398.33 L52.37,398.70 L53.91,399.07 L55.45,399.43 L56.99,399.80 L58.53,400.16 L60.06,400.52 L61.60,400.88 L63.14,401.23 L64.68,401.58 L66.22,401.93 L67.75,402.28 L69.29,402.62 L70.83,402.96 L72.37,403.29 L73.91,403.62 L75.45,403.94 L76.98,404.26 L78.52,404.57 L80.06,404.88 L81.60,405.18 L83.14,405.48 L84.67,405.76 L86.21,406.04 L87.75,406.31 L89.29,406.57 L90.83,406.82 L92.37,407.06 L93.90,407.29 L95.44,407.51 L96.98,407.71 L98.52,407.89 L100.06,408.06 L101.59,408.21 L103.13,408.34 L104.67,408.44 L106.21,408.52 L107.75,408.58 L109.29,408.61 L110.82,408.61 L112.36,408.58 L113.90,408.51 L115.44,408.40 L116.98,408.26 L118.52,408.07 L120.05,407.84 L121.59,407.56 L123.13,407.24 L124.67,406.87 L126.21,406.46 L127.74,405.99 L129.28,405.48 L130.82,404.92 L132.36,404.32 L133.90,403.67 L135.44,402.98 L136.97,402.26 L138.51,401.49 L140.05,400.70 L141.59,399.87 L143.13,399.01 L144.66,398.12 L146.20,397.20 L147.74,396.27 L149.28,395.31 L150.82,394.33 L152.36,393.33 L153.89,392.32 L155.43,391.29 L156.97,390.24 L158.51,389.19 L160.05,388.12 L161.58,387.04 L163.12,385.95 L164.66,384.85 L166.20,383.74 L167.74,382.63 L169.28,381.51 L170.81,380.38 L172.35,379.24 L173.89,378.10 L175.43,376.95 L176.97,375.80 L178.50,374.64 L180.04,373.48 L181.58,372.32 L183.12,371.15 L184.66,369.97 L186.20,368.80 L187.73,367.62 L189.27,366.44 L190.81,365.25 L192.35,364.06 L193.89,362.87 L195.42,361.68 L196.96,360.48 L198.50,359.29 L200.04,358.09 L201.58,356.89 L203.12,355.69 L204.65,354.48 L206.19,353.28 L207.73,352.07 L209.27,350.86 L210.81,349.65 L212.34,348.44 L213.88,347.23 L215.42,346.01 L216.96,344.80 L218.50,343.58 L220.04,342.37 L221.57,341.15 L223.11,339.93 L224.65,338.71 L226.19,337.49 L227.73,336.27 L229.26,335.05 L230.80,333.82 L232.34,332.60 L233.88,331.37 L235.42,330.15 L236.96,328.92 L238.49,327.70 L240.03,326.47 L241.57,325.24 L243.11,324.02 L244.65,322.79 L246.18,321.56 L247.72,320.33 L249.26,319.10 L250.80,317.87 L252.34,316.64 L253.88,315.41 L255.41,314.18 L256.95,312.94 L258.49,311.71 L260.03,310.48 L261.57,309.25 L263.11,308.01 L264.64,306.78 L266.18,305.54 L267.72,304.31 L269.26,303.07 L270.80,301.84 L272.33,300.60 L273.87,299.37 L275.41,298.13 L276.95,296.90 L278.49,295.66 L280.03,294.42 L281.56,293.19 L283.10,291.95 L284.64,290.71 L286.18,289.47 L287.72,288.24 L289.25,287.00 L290.79,285.76 L292.33,284.52 L293.87,283.28 L295.41,282.04 L296.95,280.81 L298.48,279.57 L300.02,278.33 L301.56,277.09 L303.10,275.85 L304.64,274.61 L306.17,273.37 L307.71,272.13 L309.25,270.89 L310.79,269.65 L312.33,269.40 L313.87,269.40 L315.40,269.40 L316.94,269.40 L318.48,269.40 L320.02,269.40 L321.56,269.40 L323.09,269.40 L324.63,269.40 L326.17,269.40 L327.71,269.40 L329.25,269.40 L330.79,269.40 L332.32,269.40 L333.86,269.40 L335.40,269.40 L335.40,479.81 L333.86,479.40 L332.32,478.98 L330.79,478.57 L329.25,478.15 L327.71,477.74 L326.17,477.32 L324.63,476.91 L323.09,476.50 L321.56,476.08 L320.02,475.67 L318.48,475.25 L316.94,474.84 L315.40,474.43 L313.87,474.01 L312.33,473.60 L310.79,473.19 L309.25,472.77 L307.71,472.36 L306.17,471.95 L304.64,471.54 L303.10,471.12 L301.56,470.71 L300.02,470.30 L298.48,469.89 L296.95,469.48 L295.41,469.07 L293.87,468.65 L292.33,468.24 L290.79,467.83 L289.25,467.42 L287.72,467.01 L286.18,466.60 L284.64,466.19 L283.10,465.78 L281.56,465.37 L280.03,464.96 L278.49,464.55 L276.95,464.14 L275.41,463.74 L273.87,463.33 L272.33,462.92 L270.80,462.51 L269.26,462.10 L267.72,461.70 L266.18,461.29 L264.64,460.88 L263.11,460.48 L261.57,460.07 L260.03,459.66 L258.49,459.26 L256.95,458.85 L255.41,458.45 L253.88,458.05 L252.34,457.64 L250.80,457.24 L249.26,456.84 L247.72,456.43 L246.18,456.03 L244.65,455.63 L243.11,455.23 L241.57,454.83 L240.03,454.43 L238.49,454.03 L236.96,453.63 L235.42,453.23 L233.88,452.84 L232.34,452.44 L230.80,452.04 L229.26,451.65 L227.73,451.25 L226.19,450.86 L224.65,450.47 L223.11,450.07 L221.57,449.68 L220.04,449.29 L218.50,448.90 L216.96,448.52 L215.42,448.13 L213.88,447.74 L212.34,447.36 L210.81,446.97 L209.27,446.59 L207.73,446.21 L206.19,445.83 L204.65,445.45 L203.12,445.08 L201.58,444.70 L200.04,444.33 L198.50,443.96 L196.96,443.59 L195.42,443.22 L193.89,442.85 L192.35,442.49 L190.81,442.13 L189.27,441.77 L187.73,441.42 L186.20,441.07 L184.66,440.72 L183.12,440.37 L181.58,440.03 L180.04,439.69 L178.50,439.36 L176.97,439.03 L175.43,438.71 L173.89,438.39 L172.35,438.07 L170.81,437.76 L169.28,437.46 L167.74,437.17 L166.20,436.88 L164.66,436.60 L163.12,436.33 L161.58,436.06 L160.05,435.81 L158.51,435.57 L156.97,435.34 L155.43,435.13 L153.89,434.93 L152.36,434.74 L150.82,434.57 L149.28,434.42 L147.74,434.29 L146.20,434.18 L144.66,434.09 L143.13,434.03 L141.59,434.00 L140.05,433.99 L138.51,434.02 L136.97,434.09 L135.44,434.19 L133.90,434.33 L132.36,434.51 L130.82,434.73 L129.28,435.00 L127.74,435.32 L126.21,435.68 L124.67,436.09 L123.13,436.55 L121.59,437.06 L120.05,437.61 L118.52,438.21 L116.98,438.85 L115.44,439.53 L113.90,440.25 L112.36,441.01 L110.82,441.80 L109.29,442.63 L107.75,443.49 L106.21,444.37 L104.67,445.28 L103.13,446.22 L101.59,447.17 L100.06,448.15 L98.52,449.14 L96.98,450.16 L95.44,451.18 L93.90,452.22 L92.37,453.28 L90.83,454.35 L89.29,455.42 L87.75,456.51 L86.21,457.61 L84.67,458.72 L83.14,459.83 L81.60,460.95 L80.06,462.08 L78.52,463.22 L76.98,464.36 L75.45,465.50 L73.91,466.66 L72.37,467.81 L70.83,468.97 L69.29,470.14 L67.75,471.31 L66.22,472.48 L64.68,473.66 L63.14,474.83 L61.60,476.02 L60.06,477.20 L58.53,478.39 L56.99,479.58 L55.45,480.77 L53.91,481.97 L52.37,483.16 L50.83,484.36 L49.30,485.56 L47.76,486.20 L46.22,486.20 L44.68,486.20 L43.14,486.20 L41.61,486.20 L40.07,486.20 L38.53,486.20 L36.99,486.20 L35.45,486.20 L33.91,486.20 L32.38,486.20 L30.84,486.20 L29.30,486.20Z" fill="#ccccff"/>
<path d="M29.30,392.97 L30.84,393.36 L32.38,393.75 L33.91,394.14 L35.45,394.53 L36.99,394.91 L38.53,395.30 L40.07,395.68 L41.61,396.06 L43.14,396.45 L44.68,396.83 L46.22,397.20 L47.76,397.58 L49.30,397.95 L50.83,398.33 L52.37,398.70 L53.91,399.07 L55.45,399.43 L56.99,399.80 L58.53,400.16 L60.06,400.52 L61.60,400.88 L63.14,401.23 L64.68,401.58 L66.22,401.93 L67.75,402.28 L69.29,402.62 L70.83,402.96 L72.37,403.29 L73.91,403.62 L75.45,403.94 L76.98,404.26 L78.52,404.57 L80.06,404.88 L81.60,405.18 L83.14,405.48 L84.67,405.76 L86.21,406.04 L87.75,406.31 L89.29,406.57 L90.83,406.82 L92.37,407.06 L93.90,407.29 L95.44,407.51 L96.98,407.71 L98.52,407.89 L100.06,408.06 L101.59,408.21 L103.13,408.34 L104.67,408.44 L106.21,408.52 L107.75,408.58 L109.29,408.61 L110.82,408.61 L112.36,408.58 L113.90,408.51 L115.44,408.40 L116.98,408.26 L118.52,408.07 L120.05,407.84 L121.59,407.56 L123.13,407.24 L124.67,406.87 L126.21,406.46 L127.74,405.99 L129.28,405.48 L130.82,404.92 L132.36,404.32 L133.90,403.67 L135.44,402.98 L136.97,402.26 L138.51,401.49 L140.05,400.70 L141.59,399.87 L143.13,399.01 L144.66,398.12 L146.20,397.20 L147.74,396.27 L149.28,395.31 L150.82,394.33 L152.36,393.33 L153.89,392.32 L155.43,391.29 L156.97,390.24 L158.51,389.19 L160.05,388.12 L161.58,387.04 L163.12,385.95 L164.66,384.85 L166.20,383.74 L167.74,382.63 L169.28,381.51 L170.81,380.38 L172.35,379.24 L173.89,378.10 L175.43,376.95 L176.97,375.80 L178.50,374.64 L180.04,373.48 L181.58,372.32 L183.12,371.15 L184.66,369.97 L186.20,368.80 L187.73,367.62 L189.27,366.44 L190.81,365.25 L192.35,364.06 L193.89,362.87 L195.42,361.68 L196.96,360.48 L198.50,359.29 L200.04,358.09 L201.58,356.89 L203.12,355.69 L204.65,354.48 L206.19,353.28 L207.73,352.07 L209.27,350.86 L210.81,349.65 L212.34,348.44 L213.88,347.23 L215.42,346.01 L216.96,344.80 L218.50,343.58 L220.04,342.37 L221.57,341.15 L223.11,339.93 L224.65,338.71 L226.19,337.49 L227.73,336.27 L229.26,335.05 L230.80,333.82 L232.34,332.60 L233.88,331.37 L235.42,330.15 L236.96,328.92 L238.49,327.70 L240.03,326.47 L241.57,325.24 L243.11,324.02 L244.65,322.79 L246.18,321.56 L247.72,320.33 L249.26,319.10 L250.80,317.87 L252.34,316.64 L253.88,315.41 L255.41,314.18 L256.95,312.94 L258.49,311.71 L260.03,310.48 L261.57,309.25 L263.11,308.01 L264.64,306.78 L266.18,305.54 L267.72,304.31 L269.26,303.07 L270.80,301.84 L272.33,300.60 L273.87,299.37 L275.41,298.13 L276.95,296.90 L278.49,295.66 L280.03,294.42 L281.56,293.19 L283.10,291.95 L284.64,290.71 L286.18,289.47 L287.72,288.24 L289.25,287.00 L290.79,285.76 L292.33,284.52 L293.87,283.28 L295.41,282.04 L296.95,280.81 L298.48,279.57 L300.02,278.33 L301.56,277.09 L303.10,275.85 L304.64,274.61 L306.17,273.37 L307.71,272.13 L309.25,270.89 L310.79,269.65 L312.33,269.40 L313.87,269.40 L315.40,269.40 L316.94,269.40 L318.48,269.40 L320.02,269.40 L321.56,269.40 L323.09,269.40 L324.63,269.40 L326.17,269.40 L327.71,269.40 L329.25,269.40 L330.79,269.40 L332.32,269.40 L333.86,269.40 L335.40,269.40" fill="none" stroke="#9a9aff" stroke-width="0.7"/>
<path d="M29.30,486.20 L30.84,486.20 L32.38,486.20 L33.91,486.20 L35.45,486.20 L36.99,486.20 L38.53,486.20 L40.07,486.20 L41.61,486.20 L43.14,486.20 L44.68,486.20 L46.22,486.20 L47.76,486.20 L49.30,485.56 L50.83,484.36 L52.37,483.16 L53.91,481.97 L55.45,480.77 L56.99,479.58 L58.53,478.39 L60.06,477.20 L61.60,476.02 L63.14,474.83 L64.68,473.66 L66.22,472.48 L67.75,471.31 L69.29,470.14 L70.83,468.97 L72.37,467.81 L73.91,466.66 L75.45,465.50 L76.98,464.36 L78.52,463.22 L80.06,462.08 L81.60,460.95 L83.14,459.83 L84.67,458.72 L86.21,457.61 L87.75,456.51 L89.29,455.42 L90.83,454.35 L92.37,453.28 L93.90,452.22 L95.44,451.18 L96.98,450.16 L98.52,449.14 L100.06,448.15 L101.59,447.17 L103.13,446.22 L104.67,445.28 L106.21,444.37 L107.75,443.49 L109.29,442.63 L110.82,441.80 L112.36,441.01 L113.90,440.25 L115.44,439.53 L116.98,438.85 L118.52,438.21 L120.05,437.61 L121.59,437.06 L123.13,436.55 L124.67,436.09 L126.21,435.68 L127.74,435.32 L129.28,435.00 L130.82,434.73 L132.36,434.51 L133.90,434.33 L135.44,434.19 L136.97,434.09 L138.51,434.02 L140.05,433.99 L141.59,434.00 L143.13,434.03 L144.66,434.09 L146.20,434.18 L147.74,434.29 L149.28,434.42 L150.82,434.57 L152.36,434.74 L153.89,434.93 L155.43,435.13 L156.97,435.34 L158.51,435.57 L160.05,435.81 L161.58,436.06 L163.12,436.33 L164.66,436.60 L166.20,436.88 L167.74,437.17 L169.28,437.46 L170.81,437.76 L172.35,438.07 L173.89,438.39 L175.43,438.71 L176.97,439.03 L178.50,439.36 L180.04,439.69 L181.58,440.03 L183.12,440.37 L184.66,440.72 L186.20,441.07 L187.73,441.42 L189.27,441.77 L190.81,442.13 L192.35,442.49 L193.89,442.85 L195.42,443.22 L196.96,443.59 L198.50,443.96 L200.04,444.33 L201.58,444.70 L203.12,445.08 L204.65,445.45 L206.19,445.83 L207.73,446.21 L209.27,446.59 L210.81,446.97 L212.34,447.36 L213.88,447.74 L215.42,448.13 L216.96,448.52 L218.50,448.90 L220.04,449.29 L221.57,449.68 L223.11,450.07 L224.65,450.47 L226.19,450.86 L227.73,451.25 L229.26,451.65 L230.80,452.04 L232.34,452.44 L233.88,452.84 L235.42,453.23 L236.96,453.63 L238.49,454.03 L240.03,454.43 L241.57,454.83 L243.11,455.23 L244.65,455.63 L246.18,456.03 L247.72,456.43 L249.26,456.84 L250.80,457.24 L252.34,457.64 L253.88,458.05 L255.41,458.45 L256.95,458.85 L258.49,459.26 L260.03,459.66 L261.57,460.07 L263.11,460.48 L264.64,460.88 L266.18,461.29 L267.72,461.70 L269.26,462.10 L270.80,462.51 L272.33,462.92 L273.87,463.33 L275.41,463.74 L276.95,464.14 L278.49,464.55 L280.03,464.96 L281.56,465.37 L283.10,465.78 L284.64,466.19 L286.18,466.60 L287.72,467.01 L289.25,467.42 L290.79,467.83 L292.33,468.24 L293.87,468.65 L295.41,469.07 L296.95,469.48 L298.48,469.89 L300.02,470.30 L301.56,470.71 L303.10,471.12 L304.64,471.54 L306.17,471.95 L307.71,472.36 L309.25,472.77 L310.79,473.19 L312.33,473.60 L313.87,474.01 L315.40,474.43 L316.94,474.84 L318.48,475.25 L320.02,475.67 L321.56,476.08 L323.09,476.50 L324.63,476.91 L326.17,477.32 L327.71,477.74 L329.25,478.15 L330.79,478.57 L332.32,478.98 L333.86,479.40 L335.40,479.81" fill="none" stroke="#9a9aff" stroke-width="0.7"/>
<circle cx="75.1" cy="291.9" r="3.7" fill="#008000" stroke="#111" stroke-width="0.9"/>
<circle cx="133.85" cy="397.9" r="3.7" fill="#008000" stroke="#111" stroke-width="0.9"/>
<circle cx="90.3" cy="438.2" r="3.7" fill="#008000" stroke="#111" stroke-width="0.9"/>
<circle cx="127.1" cy="453.8" r="3.7" fill="#008000" stroke="#111" stroke-width="0.9"/>
<circle cx="144.7" cy="444.1" r="3.7" fill="#008000" stroke="#111" stroke-width="0.9"/>
<circle cx="159.9" cy="455.4" r="3.7" fill="#008000" stroke="#111" stroke-width="0.9"/>
<circle cx="55.94" cy="414.9" r="3.7" fill="#0000ff" stroke="#111" stroke-width="0.9"/>
<circle cx="63.1" cy="422.4" r="3.7" fill="#0000ff" stroke="#111" stroke-width="0.9"/>
<circle cx="61.9" cy="427.5" r="3.7" fill="#0000ff" stroke="#111" stroke-width="0.9"/>
<circle cx="69.8" cy="444.8" r="3.7" fill="#0000ff" stroke="#111" stroke-width="0.9"/>
<circle cx="116.9" cy="431.7" r="3.7" fill="#0000ff" stroke="#111" stroke-width="0.9"/>
<circle cx="135.4" cy="434.3" r="3.7" fill="#0000ff" stroke="#111" stroke-width="0.9"/>
<circle cx="170.9" cy="410.5" r="3.7" fill="#0000ff" stroke="#111" stroke-width="0.9"/>
<circle cx="298.1" cy="388.8" r="3.7" fill="#0000ff" stroke="#111" stroke-width="0.9"/>
<path d="M50.65,481.2V274.4M108.95,481.2V274.4M167.25,481.2V274.4M225.55,481.2V274.4M283.85,481.2V274.4M31.3,458.00H333.4M31.3,423.88H333.4M31.3,389.76H333.4M31.3,355.64H333.4M31.3,321.52H333.4M31.3,287.40H333.4" stroke="#a8a8a8" stroke-opacity="0.75" stroke-width="0.8" stroke-dasharray="3.85,0.95,0.6,0.95" fill="none"/>
</g>
<rect x="31.3" y="274.4" width="302.10" height="206.80" fill="none" stroke="#4a4a4a" stroke-width="1"/>
<path d="M50.65,481.2v3.2M108.95,481.2v3.2M167.25,481.2v3.2M225.55,481.2v3.2M283.85,481.2v3.2M31.3,458.00h-3.2M31.3,423.88h-3.2M31.3,389.76h-3.2M31.3,355.64h-3.2M31.3,321.52h-3.2M31.3,287.40h-3.2" stroke="#303030" stroke-width="0.9" fill="none"/>
<text transform="translate(50.65,492.70) scale(0.87,1)" font-size="9.2" fill="#262626" text-anchor="middle" stroke="#262626" stroke-width="0.1">0.2</text>
<text transform="translate(108.95,492.70) scale(0.87,1)" font-size="9.2" fill="#262626" text-anchor="middle" stroke="#262626" stroke-width="0.1">0.4</text>
<text transform="translate(167.25,492.70) scale(0.87,1)" font-size="9.2" fill="#262626" text-anchor="middle" stroke="#262626" stroke-width="0.1">0.6</text>
<text transform="translate(225.55,492.70) scale(0.87,1)" font-size="9.2" fill="#262626" text-anchor="middle" stroke="#262626" stroke-width="0.1">0.8</text>
<text transform="translate(283.85,492.70) scale(0.87,1)" font-size="9.2" fill="#262626" text-anchor="middle" stroke="#262626" stroke-width="0.1">1.0</text>
<text transform="translate(25.40,461.20) scale(0.87,1)" font-size="9.2" fill="#262626" text-anchor="end" stroke="#262626" stroke-width="0.1">0.0</text>
<text transform="translate(25.40,427.08) scale(0.87,1)" font-size="9.2" fill="#262626" text-anchor="end" stroke="#262626" stroke-width="0.1">0.2</text>
<text transform="translate(25.40,392.96) scale(0.87,1)" font-size="9.2" fill="#262626" text-anchor="end" stroke="#262626" stroke-width="0.1">0.4</text>
<text transform="translate(25.40,358.84) scale(0.87,1)" font-size="9.2" fill="#262626" text-anchor="end" stroke="#262626" stroke-width="0.1">0.6</text>
<text transform="translate(25.40,324.72) scale(0.87,1)" font-size="9.2" fill="#262626" text-anchor="end" stroke="#262626" stroke-width="0.1">0.8</text>
<text transform="translate(25.40,290.60) scale(0.87,1)" font-size="9.2" fill="#262626" text-anchor="end" stroke="#262626" stroke-width="0.1">1.0</text>
<text transform="translate(181.90,502.80)" font-size="9.3" letter-spacing="0.356" fill="#262626" text-anchor="middle" stroke="#262626" stroke-width="0.1">HbT_task_std(ch3)</text>
<text transform="translate(8.30,378.40) rotate(-90)" font-size="9.3" letter-spacing="0.205" fill="#262626" text-anchor="middle" stroke="#262626" stroke-width="0.1">COE_TB_slope(01, ch2)</text>
<text transform="translate(130.55,269.90) scale(1.0919,1)" font-size="10.8" fill="#1a1a1a" text-anchor="middle" stroke="#1a1a1a" stroke-width="0.1">CM</text>
<text transform="translate(149.12,269.90) scale(1.1323,1)" font-size="10.8" fill="#1a1a1a" text-anchor="middle" stroke="#1a1a1a" stroke-width="0.1">vs</text>
<text transform="translate(172.75,269.90) scale(1.0979,1)" font-size="10.8" fill="#1a1a1a" text-anchor="middle" stroke="#1a1a1a" stroke-width="0.1">MOH</text>
<text transform="translate(215.75,269.90) scale(1.2244,1)" font-size="10.8" fill="#1a1a1a" text-anchor="middle" stroke="#1a1a1a" stroke-width="0.1">(training)</text>
<rect x="274.70" y="279.50" width="54.50" height="27.50" rx="2" fill="#fff" fill-opacity="0.8" stroke="#555" stroke-width="0.9"/>
<circle cx="287.20" cy="286.80" r="3.7" fill="#008000" stroke="#111" stroke-width="0.9"/>
<circle cx="287.20" cy="299.40" r="3.7" fill="#0000ff" stroke="#111" stroke-width="0.9"/>
<text x="304.10" y="288.70" font-size="8.8" fill="#222" stroke="#222" stroke-width="0.1">CM</text>
<text x="304.10" y="302.20" font-size="8.8" fill="#222" stroke="#222" stroke-width="0.1">MOH</text>
<clipPath id="cB2"><rect x="381.4" y="274.4" width="301.90" height="206.80"/></clipPath>
<g clip-path="url(#cB2)">
<rect x="381.4" y="274.4" width="301.90" height="206.80" fill="#ccffcc"/>
<path d="M379.40,393.02 L380.94,393.41 L382.47,393.80 L384.01,394.19 L385.55,394.58 L387.09,394.96 L388.62,395.35 L390.16,395.73 L391.70,396.11 L393.23,396.49 L394.77,396.87 L396.31,397.25 L397.85,397.63 L399.38,398.00 L400.92,398.37 L402.46,398.74 L403.99,399.11 L405.53,399.48 L407.07,399.84 L408.61,400.20 L410.14,400.56 L411.68,400.92 L413.22,401.27 L414.76,401.62 L416.29,401.97 L417.83,402.32 L419.37,402.66 L420.90,402.99 L422.44,403.33 L423.98,403.65 L425.52,403.98 L427.05,404.30 L428.59,404.61 L430.13,404.92 L431.66,405.22 L433.20,405.51 L434.74,405.79 L436.28,406.07 L437.81,406.34 L439.35,406.60 L440.89,406.85 L442.42,407.09 L443.96,407.31 L445.50,407.53 L447.04,407.73 L448.57,407.91 L450.11,408.07 L451.65,408.22 L453.18,408.35 L454.72,408.45 L456.26,408.53 L457.80,408.59 L459.33,408.61 L460.87,408.61 L462.41,408.57 L463.95,408.50 L465.48,408.39 L467.02,408.24 L468.56,408.05 L470.09,407.82 L471.63,407.54 L473.17,407.21 L474.71,406.84 L476.24,406.42 L477.78,405.95 L479.32,405.43 L480.85,404.87 L482.39,404.26 L483.93,403.62 L485.47,402.92 L487.00,402.20 L488.54,401.43 L490.08,400.63 L491.61,399.80 L493.15,398.93 L494.69,398.04 L496.23,397.13 L497.76,396.19 L499.30,395.23 L500.84,394.25 L502.37,393.25 L503.91,392.24 L505.45,391.21 L506.99,390.16 L508.52,389.11 L510.06,388.04 L511.60,386.96 L513.14,385.87 L514.67,384.77 L516.21,383.66 L517.75,382.55 L519.28,381.43 L520.82,380.30 L522.36,379.16 L523.90,378.02 L525.43,376.87 L526.97,375.72 L528.51,374.57 L530.04,373.40 L531.58,372.24 L533.12,371.07 L534.66,369.90 L536.19,368.72 L537.73,367.54 L539.27,366.36 L540.80,365.18 L542.34,363.99 L543.88,362.80 L545.42,361.61 L546.95,360.41 L548.49,359.22 L550.03,358.02 L551.56,356.82 L553.10,355.62 L554.64,354.42 L556.18,353.21 L557.71,352.00 L559.25,350.80 L560.79,349.59 L562.33,348.38 L563.86,347.16 L565.40,345.95 L566.94,344.74 L568.47,343.52 L570.01,342.31 L571.55,341.09 L573.09,339.87 L574.62,338.65 L576.16,337.43 L577.70,336.21 L579.23,334.99 L580.77,333.77 L582.31,332.55 L583.85,331.32 L585.38,330.10 L586.92,328.87 L588.46,327.65 L589.99,326.42 L591.53,325.20 L593.07,323.97 L594.61,322.74 L596.14,321.51 L597.68,320.28 L599.22,319.05 L600.75,317.82 L602.29,316.59 L603.83,315.36 L605.37,314.13 L606.90,312.90 L608.44,311.67 L609.98,310.44 L611.52,309.21 L613.05,307.97 L614.59,306.74 L616.13,305.51 L617.66,304.27 L619.20,303.04 L620.74,301.81 L622.28,300.57 L623.81,299.34 L625.35,298.10 L626.89,296.87 L628.42,295.63 L629.96,294.39 L631.50,293.16 L633.04,291.92 L634.57,290.69 L636.11,289.45 L637.65,288.21 L639.18,286.97 L640.72,285.74 L642.26,284.50 L643.80,283.26 L645.33,282.02 L646.87,280.79 L648.41,279.55 L649.94,278.31 L651.48,277.07 L653.02,275.83 L654.56,274.59 L656.09,273.35 L657.63,272.11 L659.17,270.87 L660.71,269.63 L662.24,269.40 L663.78,269.40 L665.32,269.40 L666.85,269.40 L668.39,269.40 L669.93,269.40 L671.47,269.40 L673.00,269.40 L674.54,269.40 L676.08,269.40 L677.61,269.40 L679.15,269.40 L680.69,269.40 L682.23,269.40 L683.76,269.40 L685.30,269.40 L685.30,479.81 L683.76,479.40 L682.23,478.98 L680.69,478.57 L679.15,478.15 L677.61,477.74 L676.08,477.32 L674.54,476.91 L673.00,476.50 L671.47,476.08 L669.93,475.67 L668.39,475.26 L666.85,474.84 L665.32,474.43 L663.78,474.02 L662.24,473.60 L660.71,473.19 L659.17,472.78 L657.63,472.37 L656.09,471.95 L654.56,471.54 L653.02,471.13 L651.48,470.72 L649.94,470.31 L648.41,469.89 L646.87,469.48 L645.33,469.07 L643.80,468.66 L642.26,468.25 L640.72,467.84 L639.18,467.43 L637.65,467.02 L636.11,466.61 L634.57,466.20 L633.04,465.79 L631.50,465.38 L629.96,464.97 L628.42,464.56 L626.89,464.15 L625.35,463.75 L623.81,463.34 L622.28,462.93 L620.74,462.52 L619.20,462.11 L617.66,461.71 L616.13,461.30 L614.59,460.89 L613.05,460.49 L611.52,460.08 L609.98,459.68 L608.44,459.27 L606.90,458.87 L605.37,458.46 L603.83,458.06 L602.29,457.66 L600.75,457.25 L599.22,456.85 L597.68,456.45 L596.14,456.05 L594.61,455.65 L593.07,455.25 L591.53,454.85 L589.99,454.45 L588.46,454.05 L586.92,453.65 L585.38,453.25 L583.85,452.85 L582.31,452.46 L580.77,452.06 L579.23,451.67 L577.70,451.27 L576.16,450.88 L574.62,450.48 L573.09,450.09 L571.55,449.70 L570.01,449.31 L568.47,448.92 L566.94,448.53 L565.40,448.15 L563.86,447.76 L562.33,447.38 L560.79,446.99 L559.25,446.61 L557.71,446.23 L556.18,445.85 L554.64,445.47 L553.10,445.10 L551.56,444.72 L550.03,444.35 L548.49,443.98 L546.95,443.61 L545.42,443.24 L543.88,442.88 L542.34,442.51 L540.80,442.15 L539.27,441.80 L537.73,441.44 L536.19,441.09 L534.66,440.74 L533.12,440.40 L531.58,440.05 L530.04,439.72 L528.51,439.38 L526.97,439.05 L525.43,438.73 L523.90,438.41 L522.36,438.09 L520.82,437.78 L519.28,437.48 L517.75,437.19 L516.21,436.90 L514.67,436.62 L513.14,436.35 L511.60,436.08 L510.06,435.83 L508.52,435.59 L506.99,435.36 L505.45,435.14 L503.91,434.94 L502.37,434.75 L500.84,434.58 L499.30,434.43 L497.76,434.30 L496.23,434.18 L494.69,434.10 L493.15,434.03 L491.61,434.00 L490.08,433.99 L488.54,434.02 L487.00,434.08 L485.47,434.18 L483.93,434.31 L482.39,434.49 L480.85,434.71 L479.32,434.98 L477.78,435.29 L476.24,435.65 L474.71,436.05 L473.17,436.51 L471.63,437.01 L470.09,437.56 L468.56,438.15 L467.02,438.79 L465.48,439.46 L463.95,440.18 L462.41,440.94 L460.87,441.73 L459.33,442.55 L457.80,443.40 L456.26,444.28 L454.72,445.19 L453.18,446.12 L451.65,447.08 L450.11,448.05 L448.57,449.04 L447.04,450.05 L445.50,451.08 L443.96,452.12 L442.42,453.17 L440.89,454.24 L439.35,455.31 L437.81,456.40 L436.28,457.49 L434.74,458.60 L433.20,459.71 L431.66,460.83 L430.13,461.96 L428.59,463.09 L427.05,464.23 L425.52,465.38 L423.98,466.53 L422.44,467.68 L420.90,468.84 L419.37,470.01 L417.83,471.17 L416.29,472.35 L414.76,473.52 L413.22,474.70 L411.68,475.88 L410.14,477.06 L408.61,478.25 L407.07,479.44 L405.53,480.63 L403.99,481.82 L402.46,483.02 L400.92,484.22 L399.38,485.41 L397.85,486.20 L396.31,486.20 L394.77,486.20 L393.23,486.20 L391.70,486.20 L390.16,486.20 L388.62,486.20 L387.09,486.20 L385.55,486.20 L384.01,486.20 L382.47,486.20 L380.94,486.20 L379.40,486.20Z" fill="#ccccff"/>
<path d="M379.40,393.02 L380.94,393.41 L382.47,393.80 L384.01,394.19 L385.55,394.58 L387.09,394.96 L388.62,395.35 L390.16,395.73 L391.70,396.11 L393.23,396.49 L394.77,396.87 L396.31,397.25 L397.85,397.63 L399.38,398.00 L400.92,398.37 L402.46,398.74 L403.99,399.11 L405.53,399.48 L407.07,399.84 L408.61,400.20 L410.14,400.56 L411.68,400.92 L413.22,401.27 L414.76,401.62 L416.29,401.97 L417.83,402.32 L419.37,402.66 L420.90,402.99 L422.44,403.33 L423.98,403.65 L425.52,403.98 L427.05,404.30 L428.59,404.61 L430.13,404.92 L431.66,405.22 L433.20,405.51 L434.74,405.79 L436.28,406.07 L437.81,406.34 L439.35,406.60 L440.89,406.85 L442.42,407.09 L443.96,407.31 L445.50,407.53 L447.04,407.73 L448.57,407.91 L450.11,408.07 L451.65,408.22 L453.18,408.35 L454.72,408.45 L456.26,408.53 L457.80,408.59 L459.33,408.61 L460.87,408.61 L462.41,408.57 L463.95,408.50 L465.48,408.39 L467.02,408.24 L468.56,408.05 L470.09,407.82 L471.63,407.54 L473.17,407.21 L474.71,406.84 L476.24,406.42 L477.78,405.95 L479.32,405.43 L480.85,404.87 L482.39,404.26 L483.93,403.62 L485.47,402.92 L487.00,402.20 L488.54,401.43 L490.08,400.63 L491.61,399.80 L493.15,398.93 L494.69,398.04 L496.23,397.13 L497.76,396.19 L499.30,395.23 L500.84,394.25 L502.37,393.25 L503.91,392.24 L505.45,391.21 L506.99,390.16 L508.52,389.11 L510.06,388.04 L511.60,386.96 L513.14,385.87 L514.67,384.77 L516.21,383.66 L517.75,382.55 L519.28,381.43 L520.82,380.30 L522.36,379.16 L523.90,378.02 L525.43,376.87 L526.97,375.72 L528.51,374.57 L530.04,373.40 L531.58,372.24 L533.12,371.07 L534.66,369.90 L536.19,368.72 L537.73,367.54 L539.27,366.36 L540.80,365.18 L542.34,363.99 L543.88,362.80 L545.42,361.61 L546.95,360.41 L548.49,359.22 L550.03,358.02 L551.56,356.82 L553.10,355.62 L554.64,354.42 L556.18,353.21 L557.71,352.00 L559.25,350.80 L560.79,349.59 L562.33,348.38 L563.86,347.16 L565.40,345.95 L566.94,344.74 L568.47,343.52 L570.01,342.31 L571.55,341.09 L573.09,339.87 L574.62,338.65 L576.16,337.43 L577.70,336.21 L579.23,334.99 L580.77,333.77 L582.31,332.55 L583.85,331.32 L585.38,330.10 L586.92,328.87 L588.46,327.65 L589.99,326.42 L591.53,325.20 L593.07,323.97 L594.61,322.74 L596.14,321.51 L597.68,320.28 L599.22,319.05 L600.75,317.82 L602.29,316.59 L603.83,315.36 L605.37,314.13 L606.90,312.90 L608.44,311.67 L609.98,310.44 L611.52,309.21 L613.05,307.97 L614.59,306.74 L616.13,305.51 L617.66,304.27 L619.20,303.04 L620.74,301.81 L622.28,300.57 L623.81,299.34 L625.35,298.10 L626.89,296.87 L628.42,295.63 L629.96,294.39 L631.50,293.16 L633.04,291.92 L634.57,290.69 L636.11,289.45 L637.65,288.21 L639.18,286.97 L640.72,285.74 L642.26,284.50 L643.80,283.26 L645.33,282.02 L646.87,280.79 L648.41,279.55 L649.94,278.31 L651.48,277.07 L653.02,275.83 L654.56,274.59 L656.09,273.35 L657.63,272.11 L659.17,270.87 L660.71,269.63 L662.24,269.40 L663.78,269.40 L665.32,269.40 L666.85,269.40 L668.39,269.40 L669.93,269.40 L671.47,269.40 L673.00,269.40 L674.54,269.40 L676.08,269.40 L677.61,269.40 L679.15,269.40 L680.69,269.40 L682.23,269.40 L683.76,269.40 L685.30,269.40" fill="none" stroke="#9a9aff" stroke-width="0.7"/>
<path d="M379.40,486.20 L380.94,486.20 L382.47,486.20 L384.01,486.20 L385.55,486.20 L387.09,486.20 L388.62,486.20 L390.16,486.20 L391.70,486.20 L393.23,486.20 L394.77,486.20 L396.31,486.20 L397.85,486.20 L399.38,485.41 L400.92,484.22 L402.46,483.02 L403.99,481.82 L405.53,480.63 L407.07,479.44 L408.61,478.25 L410.14,477.06 L411.68,475.88 L413.22,474.70 L414.76,473.52 L416.29,472.35 L417.83,471.17 L419.37,470.01 L420.90,468.84 L422.44,467.68 L423.98,466.53 L425.52,465.38 L427.05,464.23 L428.59,463.09 L430.13,461.96 L431.66,460.83 L433.20,459.71 L434.74,458.60 L436.28,457.49 L437.81,456.40 L439.35,455.31 L440.89,454.24 L442.42,453.17 L443.96,452.12 L445.50,451.08 L447.04,450.05 L448.57,449.04 L450.11,448.05 L451.65,447.08 L453.18,446.12 L454.72,445.19 L456.26,444.28 L457.80,443.40 L459.33,442.55 L460.87,441.73 L462.41,440.94 L463.95,440.18 L465.48,439.46 L467.02,438.79 L468.56,438.15 L470.09,437.56 L471.63,437.01 L473.17,436.51 L474.71,436.05 L476.24,435.65 L477.78,435.29 L479.32,434.98 L480.85,434.71 L482.39,434.49 L483.93,434.31 L485.47,434.18 L487.00,434.08 L488.54,434.02 L490.08,433.99 L491.61,434.00 L493.15,434.03 L494.69,434.10 L496.23,434.18 L497.76,434.30 L499.30,434.43 L500.84,434.58 L502.37,434.75 L503.91,434.94 L505.45,435.14 L506.99,435.36 L508.52,435.59 L510.06,435.83 L511.60,436.08 L513.14,436.35 L514.67,436.62 L516.21,436.90 L517.75,437.19 L519.28,437.48 L520.82,437.78 L522.36,438.09 L523.90,438.41 L525.43,438.73 L526.97,439.05 L528.51,439.38 L530.04,439.72 L531.58,440.05 L533.12,440.40 L534.66,440.74 L536.19,441.09 L537.73,441.44 L539.27,441.80 L540.80,442.15 L542.34,442.51 L543.88,442.88 L545.42,443.24 L546.95,443.61 L548.49,443.98 L550.03,444.35 L551.56,444.72 L553.10,445.10 L554.64,445.47 L556.18,445.85 L557.71,446.23 L559.25,446.61 L560.79,446.99 L562.33,447.38 L563.86,447.76 L565.40,448.15 L566.94,448.53 L568.47,448.92 L570.01,449.31 L571.55,449.70 L573.09,450.09 L574.62,450.48 L576.16,450.88 L577.70,451.27 L579.23,451.67 L580.77,452.06 L582.31,452.46 L583.85,452.85 L585.38,453.25 L586.92,453.65 L588.46,454.05 L589.99,454.45 L591.53,454.85 L593.07,455.25 L594.61,455.65 L596.14,456.05 L597.68,456.45 L599.22,456.85 L600.75,457.25 L602.29,457.66 L603.83,458.06 L605.37,458.46 L606.90,458.87 L608.44,459.27 L609.98,459.68 L611.52,460.08 L613.05,460.49 L614.59,460.89 L616.13,461.30 L617.66,461.71 L619.20,462.11 L620.74,462.52 L622.28,462.93 L623.81,463.34 L625.35,463.75 L626.89,464.15 L628.42,464.56 L629.96,464.97 L631.50,465.38 L633.04,465.79 L634.57,466.20 L636.11,466.61 L637.65,467.02 L639.18,467.43 L640.72,467.84 L642.26,468.25 L643.80,468.66 L645.33,469.07 L646.87,469.48 L648.41,469.89 L649.94,470.31 L651.48,470.72 L653.02,471.13 L654.56,471.54 L656.09,471.95 L657.63,472.37 L659.17,472.78 L660.71,473.19 L662.24,473.60 L663.78,474.02 L665.32,474.43 L666.85,474.84 L668.39,475.26 L669.93,475.67 L671.47,476.08 L673.00,476.50 L674.54,476.91 L676.08,477.32 L677.61,477.74 L679.15,478.15 L680.69,478.57 L682.23,478.98 L683.76,479.40 L685.30,479.81" fill="none" stroke="#9a9aff" stroke-width="0.7"/>
<circle cx="484.5" cy="350.4" r="3.7" fill="#008000" stroke="#111" stroke-width="0.9"/>
<circle cx="471.8" cy="387.8" r="3.7" fill="#008000" stroke="#111" stroke-width="0.9"/>
<circle cx="450" cy="455.4" r="3.7" fill="#008000" stroke="#111" stroke-width="0.9"/>
<circle cx="478" cy="371" r="3.7" fill="#0000ff" stroke="#111" stroke-width="0.9"/>
<circle cx="428.3" cy="415.9" r="3.7" fill="#0000ff" stroke="#111" stroke-width="0.9"/>
<circle cx="430.1" cy="420.9" r="3.7" fill="#0000ff" stroke="#111" stroke-width="0.9"/>
<circle cx="445.3" cy="441.4" r="3.7" fill="#0000ff" stroke="#111" stroke-width="0.9"/>
<path d="M400.50,481.2V274.4M458.92,481.2V274.4M517.34,481.2V274.4M575.76,481.2V274.4M634.18,481.2V274.4M381.4,458.00H683.3M381.4,423.86H683.3M381.4,389.72H683.3M381.4,355.58H683.3M381.4,321.44H683.3M381.4,287.30H683.3" stroke="#a8a8a8" stroke-opacity="0.75" stroke-width="0.8" stroke-dasharray="3.85,0.95,0.6,0.95" fill="none"/>
</g>
<rect x="381.4" y="274.4" width="301.90" height="206.80" fill="none" stroke="#4a4a4a" stroke-width="1"/>
<path d="M400.50,481.2v3.2M458.92,481.2v3.2M517.34,481.2v3.2M575.76,481.2v3.2M634.18,481.2v3.2M381.4,458.00h-3.2M381.4,423.86h-3.2M381.4,389.72h-3.2M381.4,355.58h-3.2M381.4,321.44h-3.2M381.4,287.30h-3.2" stroke="#303030" stroke-width="0.9" fill="none"/>
<text transform="translate(400.50,492.70) scale(0.87,1)" font-size="9.2" fill="#262626" text-anchor="middle" stroke="#262626" stroke-width="0.1">0.2</text>
<text transform="translate(458.92,492.70) scale(0.87,1)" font-size="9.2" fill="#262626" text-anchor="middle" stroke="#262626" stroke-width="0.1">0.4</text>
<text transform="translate(517.34,492.70) scale(0.87,1)" font-size="9.2" fill="#262626" text-anchor="middle" stroke="#262626" stroke-width="0.1">0.6</text>
<text transform="translate(575.76,492.70) scale(0.87,1)" font-size="9.2" fill="#262626" text-anchor="middle" stroke="#262626" stroke-width="0.1">0.8</text>
<text transform="translate(634.18,492.70) scale(0.87,1)" font-size="9.2" fill="#262626" text-anchor="middle" stroke="#262626" stroke-width="0.1">1.0</text>
<text transform="translate(375.50,461.20) scale(0.87,1)" font-size="9.2" fill="#262626" text-anchor="end" stroke="#262626" stroke-width="0.1">0.0</text>
<text transform="translate(375.50,427.06) scale(0.87,1)" font-size="9.2" fill="#262626" text-anchor="end" stroke="#262626" stroke-width="0.1">0.2</text>
<text transform="translate(375.50,392.92) scale(0.87,1)" font-size="9.2" fill="#262626" text-anchor="end" stroke="#262626" stroke-width="0.1">0.4</text>
<text transform="translate(375.50,358.78) scale(0.87,1)" font-size="9.2" fill="#262626" text-anchor="end" stroke="#262626" stroke-width="0.1">0.6</text>
<text transform="translate(375.50,324.64) scale(0.87,1)" font-size="9.2" fill="#262626" text-anchor="end" stroke="#262626" stroke-width="0.1">0.8</text>
<text transform="translate(375.50,290.50) scale(0.87,1)" font-size="9.2" fill="#262626" text-anchor="end" stroke="#262626" stroke-width="0.1">1.0</text>
<text transform="translate(532.05,502.80)" font-size="9.3" letter-spacing="0.356" fill="#262626" text-anchor="middle" stroke="#262626" stroke-width="0.1">HbT_task_std(ch3)</text>
<text transform="translate(358.00,378.40) rotate(-90)" font-size="9.3" letter-spacing="0.205" fill="#262626" text-anchor="middle" stroke="#262626" stroke-width="0.1">COE_TB_slope(01, ch2)</text>
<text transform="translate(482.90,269.90) scale(1.1181,1)" font-size="10.8" fill="#1a1a1a" text-anchor="middle" stroke="#1a1a1a" stroke-width="0.1">CM</text>
<text transform="translate(501.62,269.90) scale(1.0929,1)" font-size="10.8" fill="#1a1a1a" text-anchor="middle" stroke="#1a1a1a" stroke-width="0.1">vs</text>
<text transform="translate(524.35,269.90) scale(1.0603,1)" font-size="10.8" fill="#1a1a1a" text-anchor="middle" stroke="#1a1a1a" stroke-width="0.1">MOH</text>
<text transform="translate(565.60,269.90) scale(1.2120,1)" font-size="10.8" fill="#1a1a1a" text-anchor="middle" stroke="#1a1a1a" stroke-width="0.1">(testing)</text>
<rect x="624.80" y="279.50" width="54.50" height="27.50" rx="2" fill="#fff" fill-opacity="0.8" stroke="#555" stroke-width="0.9"/>
<circle cx="637.30" cy="286.80" r="3.7" fill="#008000" stroke="#111" stroke-width="0.9"/>
<circle cx="637.30" cy="299.40" r="3.7" fill="#0000ff" stroke="#111" stroke-width="0.9"/>
<text x="654.20" y="288.70" font-size="8.8" fill="#222" stroke="#222" stroke-width="0.1">CM</text>
<text x="654.20" y="302.20" font-size="8.8" fill="#222" stroke="#222" stroke-width="0.1">MOH</text>
<text transform="translate(3.6,18.7) scale(0.79,1)" font-size="22" fill="#000" stroke="#000" stroke-width="0.35">a</text>
<text x="3.5" y="279" font-size="22" fill="#000">b</text>
</svg></body></html>
